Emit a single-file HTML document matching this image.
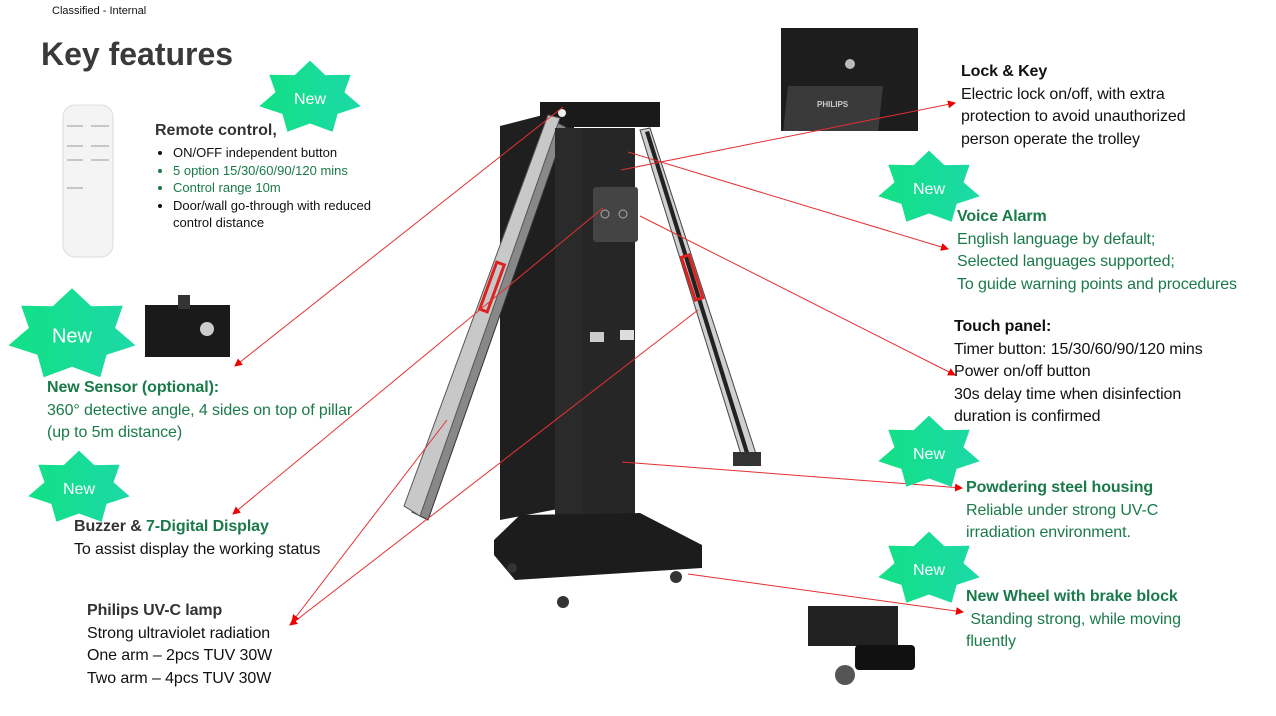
<!DOCTYPE html>
<html><head><meta charset="utf-8"><style>
body{margin:0;width:1276px;height:716px;background:#fff;position:relative;overflow:hidden;font-family:"Liberation Sans",sans-serif;}
.t{position:absolute;white-space:nowrap;color:#111;}
.g{color:#1a7a4a;}
.b{font-weight:bold;}
.f{font-size:16px;line-height:22.5px;letter-spacing:-0.1px;}
ul{margin:0;padding-left:18px;font-size:13px;line-height:17.5px;}
svg{position:absolute;left:0;top:0;}
</style></head><body>
<svg width="1276" height="716" id="s">
<defs><linearGradient id="gg" x1="0" x2="1"><stop offset="0" stop-color="#12e084"/><stop offset="1" stop-color="#1cd9a8"/></linearGradient>
<marker id="a" markerWidth="8" markerHeight="8" refX="7" refY="4" orient="auto" markerUnits="userSpaceOnUse"><path d="M0,0 L8,4 L0,8z" fill="#e00"/></marker></defs>
<!-- remote -->
<rect x="63" y="105" width="50" height="152" rx="12" fill="#f4f4f4" stroke="#ddd"/>
<g stroke="#999" stroke-width="1"><line x1="67" y1="126" x2="83" y2="126"/><line x1="91" y1="126" x2="109" y2="126"/><line x1="67" y1="146" x2="83" y2="146"/><line x1="91" y1="146" x2="109" y2="146"/><line x1="67" y1="160" x2="83" y2="160"/><line x1="91" y1="160" x2="109" y2="160"/><line x1="67" y1="188" x2="83" y2="188"/></g>
<!-- sensor photo -->
<rect x="145" y="305" width="85" height="52" fill="#1a1a1a"/><rect x="178" y="295" width="12" height="14" fill="#333"/><circle cx="207" cy="329" r="7" fill="#ccc"/>
<!-- lock photo -->
<rect x="781" y="28" width="137" height="103" fill="#1d1d1d"/><rect x="797" y="86" width="95" height="45" fill="#3a3a3a" transform="skewX(-6)"/><circle cx="850" cy="64" r="5" fill="#bbb"/>
<text x="817" y="107" fill="#ccc" font-size="8" font-weight="bold" font-family="Liberation Sans">PHILIPS</text>
<!-- wheel photo -->
<rect x="808" y="606" width="90" height="40" fill="#222"/><rect x="855" y="645" width="60" height="25" fill="#111" rx="4"/><circle cx="845" cy="675" r="10" fill="#555"/>
<!-- device -->
<polygon points="500,126 574,107 574,506 500,520" fill="#1f1f1f"/>
<rect x="540" y="102" width="120" height="25" fill="#1a1a1a"/>
<polygon points="412,512 552,120 566,127 428,520" fill="#888" stroke="#333"/>
<polygon points="404,506 548,115 560,118 420,516" fill="#c8c8c8" stroke="#555"/>
<circle cx="562" cy="113" r="4" fill="#eee"/>
<rect x="555" y="128" width="80" height="420" fill="#2a2a2a"/>
<rect x="582" y="128" width="53" height="410" fill="#262626"/>
<rect x="593" y="187" width="45" height="55" rx="3" fill="#444"/>
<circle cx="605" cy="214" r="4" fill="none" stroke="#aaa"/><circle cx="623" cy="214" r="4" fill="none" stroke="#aaa"/>
<polygon points="640,130 650,128 758,460 744,464" fill="#d0d0d0" stroke="#444"/>
<polygon points="645,132 649,131 752,462 748,463" fill="#222"/>
<rect x="733" y="452" width="28" height="14" fill="#333"/>
<rect x="488" y="262" width="8" height="50" fill="none" stroke="#d22" stroke-width="3" transform="rotate(20 492 287)"/>
<rect x="688" y="255" width="8" height="45" fill="none" stroke="#d22" stroke-width="3" transform="rotate(-18 692 277)"/>
<polygon points="520,515 640,513 702,545 702,568 515,580 494,555 494,540" fill="#1c1c1c"/>
<circle cx="512" cy="568" r="5" fill="#333"/><circle cx="563" cy="602" r="6" fill="#333"/><circle cx="676" cy="577" r="6" fill="#333"/>
<rect x="590" y="332" width="14" height="10" fill="#ccc"/><rect x="620" y="330" width="14" height="10" fill="#ddd"/>
<!-- arrows -->
<g stroke="#e53030" stroke-width="1" fill="none" marker-end="url(#a)">
<line x1="563" y1="107" x2="235" y2="366"/>
<line x1="603" y1="208" x2="233" y2="514"/>
<line x1="698" y1="310" x2="290" y2="625"/>
<line x1="447" y1="420" x2="292" y2="622"/>
<line x1="621" y1="170" x2="955" y2="103"/>
<line x1="628" y1="152" x2="948" y2="249"/>
<line x1="640" y1="216" x2="955" y2="375"/>
<line x1="622" y1="462" x2="962" y2="488"/>
<line x1="688" y1="574" x2="963" y2="612"/>
</g>
<g id="stars"></g>
</svg>
<div class="t" style="left:52px;top:5px;font-size:11px;">Classified - Internal</div>
<div class="t b" style="left:41px;top:36px;font-size:32px;color:#3a3a3a;">Key features</div>
<div class="t b" style="left:155px;top:122px;font-size:16px;color:#333;">Remote control,</div>
<div class="t" style="left:155px;top:144px;"><ul><li>ON/OFF independent button</li><li class="g">5 option 15/30/60/90/120 mins</li><li class="g">Control range 10m</li><li>Door/wall go-through with reduced<br>control distance</li></ul></div>
<div class="t f" style="left:47px;top:377px;"><span class="b g">New Sensor (optional):</span><br><span class="g">360° detective angle, 4 sides on top of pillar<br>(up to 5m distance)</span></div>
<div class="t f" style="left:74px;top:516px;"><span class="b" style="color:#333">Buzzer &amp; </span><span class="b g">7-Digital Display</span><br>To assist display the working status</div>
<div class="t f" style="left:87px;top:600px;"><span class="b" style="color:#333">Philips UV-C lamp</span><br>Strong ultraviolet radiation<br>One arm – 2pcs TUV 30W<br>Two arm – 4pcs TUV 30W</div>
<div class="t f" style="left:961px;top:61px;"><span class="b">Lock &amp; Key</span><br>Electric lock on/off, with extra<br>protection to avoid unauthorized<br>person operate the trolley</div>
<div class="t f g" style="left:957px;top:206px;"><span class="b">Voice Alarm</span><br>English language by default;<br>Selected languages supported;<br>To guide warning points and procedures</div>
<div class="t f" style="left:954px;top:316px;"><span class="b">Touch panel:</span><br>Timer button: 15/30/60/90/120 mins<br>Power on/off button<br>30s delay time when disinfection<br>duration is confirmed</div>
<div class="t f g" style="left:966px;top:477px;"><span class="b">Powdering steel housing</span><br>Reliable under strong UV-C<br>irradiation environment.</div>
<div class="t f g" style="left:966px;top:586px;"><span class="b">New Wheel with brake block</span><br>&nbsp;Standing strong, while moving<br>fluently</div>
<script>
var S=[[310,98,52,1],[929,188,52,1],[72,335,65,1.25],[79,488,52,1],[929,453,52,1],[929,569,52,1]];
var g=document.getElementById('stars'),h='';
S.forEach(function(s){var p=[],n=7,R=s[2],r=R*0.68;for(var i=0;i<2*n;i++){var a=-Math.PI/2+i*Math.PI/n,rr=i%2?r:R;p.push((s[0]+rr*Math.cos(a)).toFixed(1)+','+(s[1]+rr*0.72*Math.sin(a)).toFixed(1));}
h+='<polygon points="'+p.join(' ')+'" fill="url(#gg)"/><text x="'+s[0]+'" y="'+(s[1]+6*s[3])+'" text-anchor="middle" fill="#fff" font-size="'+(16*s[3])+'" font-family="Liberation Sans">New</text>';});
g.innerHTML=h;
</script>
</body></html>
